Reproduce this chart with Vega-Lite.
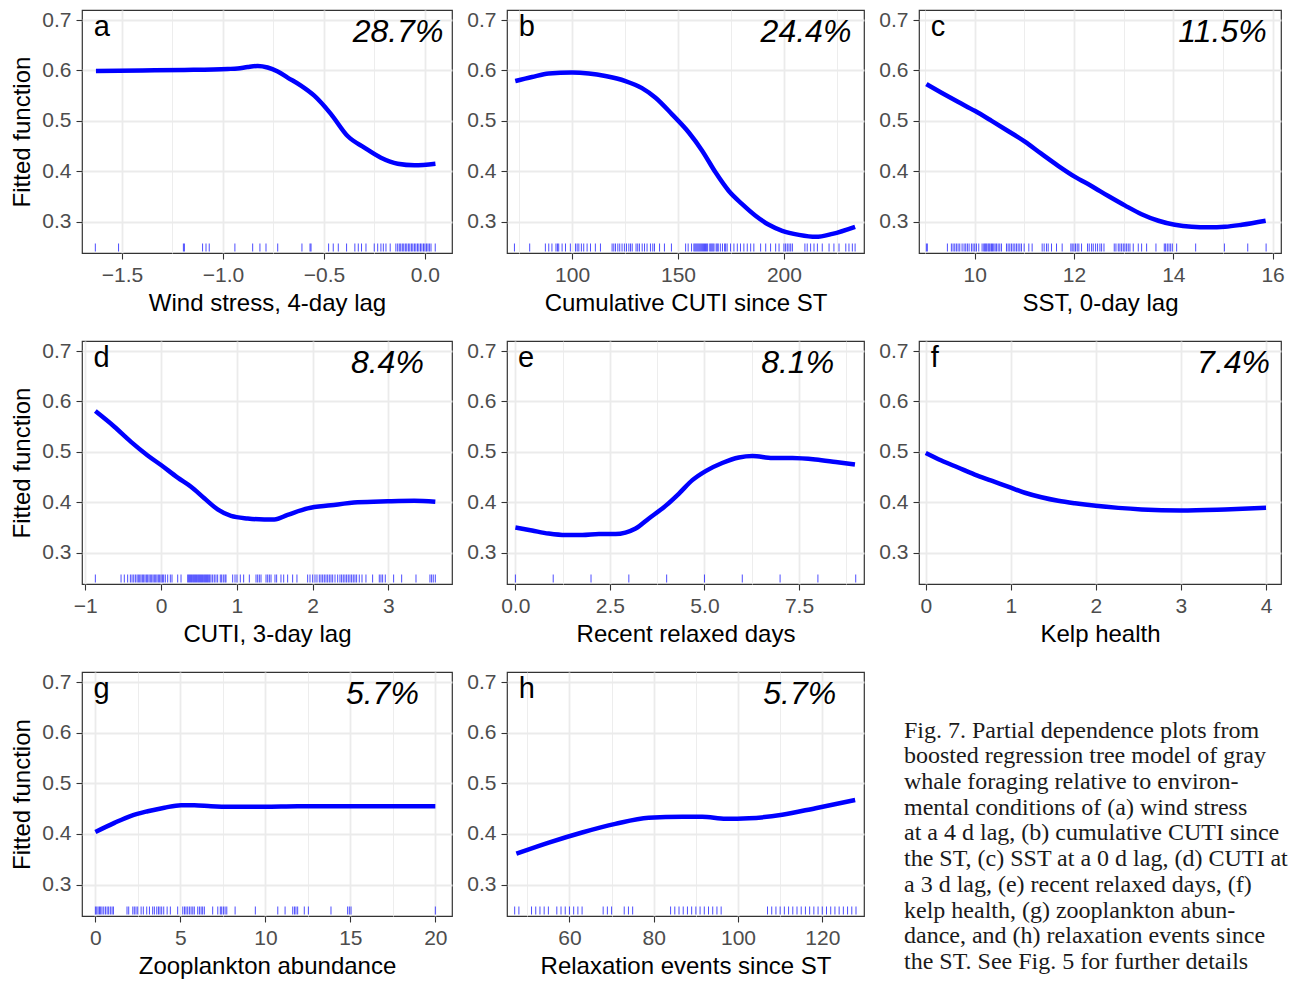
{
  "$schema": "https://vega.github.io/schema/vega-lite/v6.json",
  "background": "white",
  "padding": {"left": 10, "top": 8, "right": 4, "bottom": 4},
  "bounds": "flush",
  "align": "each",
  "columns": 3,
  "spacing": {"row": 88, "column": 55},
  "datasets": {
    "labels": [
      {"panel": "a", "letter": "a", "pct": "28.7%"},
      {"panel": "b", "letter": "b", "pct": "24.4%"},
      {"panel": "c", "letter": "c", "pct": "11.5%"},
      {"panel": "d", "letter": "d", "pct": "8.4%"},
      {"panel": "e", "letter": "e", "pct": "8.1%"},
      {"panel": "f", "letter": "f", "pct": "7.4%"},
      {"panel": "g", "letter": "g", "pct": "5.7%"},
      {"panel": "h", "letter": "h", "pct": "5.7%"}
    ],
    "caption": [
      {"line": 1, "text": "Fig. 7. Partial dependence plots from"},
      {"line": 2, "text": "boosted regression tree model of gray"},
      {"line": 3, "text": "whale foraging relative to environ-"},
      {"line": 4, "text": "mental conditions of (a) wind stress"},
      {"line": 5, "text": "at a 4 d lag, (b) cumulative CUTI since"},
      {"line": 6, "text": "the ST, (c) SST at a 0 d lag, (d) CUTI at"},
      {"line": 7, "text": "a 3 d lag, (e) recent relaxed days, (f)"},
      {"line": 8, "text": "kelp health, (g) zooplankton abun-"},
      {"line": 9, "text": "dance, and (h) relaxation events since"},
      {"line": 10, "text": "the ST. See Fig. 5 for further details"}
    ],
    "curve_a": [
      {"x": -1.629, "y": 0.599}, {"x": -1.40, "y": 0.600}, {"x": -1.191, "y": 0.601}, {"x": -0.977, "y": 0.603},
      {"x": -0.927, "y": 0.604}, {"x": -0.878, "y": 0.607}, {"x": -0.828, "y": 0.609}, {"x": -0.779, "y": 0.606},
      {"x": -0.729, "y": 0.598}, {"x": -0.68, "y": 0.586}, {"x": -0.614, "y": 0.570}, {"x": -0.548, "y": 0.55},
      {"x": -0.466, "y": 0.514}, {"x": -0.383, "y": 0.47}, {"x": -0.30, "y": 0.447}, {"x": -0.218, "y": 0.427},
      {"x": -0.135, "y": 0.415}, {"x": -0.052, "y": 0.412}, {"x": 0.052, "y": 0.415}
    ],
    "curve_b": [
      {"x": 73.2, "y": 0.579}, {"x": 81.1, "y": 0.587}, {"x": 89, "y": 0.594}, {"x": 100, "y": 0.596},
      {"x": 107.9, "y": 0.594}, {"x": 115.7, "y": 0.589}, {"x": 125.2, "y": 0.579}, {"x": 133, "y": 0.565},
      {"x": 139.4, "y": 0.546}, {"x": 147.2, "y": 0.513}, {"x": 155.1, "y": 0.477}, {"x": 161.4, "y": 0.441},
      {"x": 167.7, "y": 0.398}, {"x": 174, "y": 0.361}, {"x": 180.3, "y": 0.335}, {"x": 186.6, "y": 0.312},
      {"x": 192.9, "y": 0.294}, {"x": 199.2, "y": 0.282}, {"x": 207.1, "y": 0.274}, {"x": 215, "y": 0.270},
      {"x": 222.9, "y": 0.276}, {"x": 233.6, "y": 0.290}
    ],
    "curve_c": [
      {"x": 9.025, "y": 0.573}, {"x": 9.33, "y": 0.556}, {"x": 9.66, "y": 0.538}, {"x": 10.0, "y": 0.520},
      {"x": 10.34, "y": 0.500}, {"x": 10.67, "y": 0.480}, {"x": 11.01, "y": 0.459}, {"x": 11.34, "y": 0.435},
      {"x": 11.68, "y": 0.411}, {"x": 12.02, "y": 0.389}, {"x": 12.35, "y": 0.371}, {"x": 12.69, "y": 0.351},
      {"x": 13.03, "y": 0.332}, {"x": 13.36, "y": 0.315}, {"x": 13.70, "y": 0.302}, {"x": 14.03, "y": 0.294},
      {"x": 14.37, "y": 0.290}, {"x": 14.71, "y": 0.289}, {"x": 15.04, "y": 0.290}, {"x": 15.38, "y": 0.294},
      {"x": 15.86, "y": 0.302}
    ],
    "curve_d": [
      {"x": -0.866, "y": 0.581}, {"x": -0.615, "y": 0.550}, {"x": -0.396, "y": 0.520}, {"x": -0.176, "y": 0.493},
      {"x": 0, "y": 0.474}, {"x": 0.22, "y": 0.449}, {"x": 0.396, "y": 0.431}, {"x": 0.571, "y": 0.408},
      {"x": 0.747, "y": 0.386}, {"x": 0.923, "y": 0.373}, {"x": 1.143, "y": 0.368}, {"x": 1.363, "y": 0.366},
      {"x": 1.495, "y": 0.366}, {"x": 1.67, "y": 0.375}, {"x": 1.934, "y": 0.388}, {"x": 2.242, "y": 0.394},
      {"x": 2.593, "y": 0.400}, {"x": 2.989, "y": 0.402}, {"x": 3.34, "y": 0.403}, {"x": 3.618, "y": 0.401}
    ],
    "curve_e": [
      {"x": 0, "y": 0.350}, {"x": 0.44, "y": 0.344}, {"x": 0.88, "y": 0.338}, {"x": 1.32, "y": 0.335},
      {"x": 1.77, "y": 0.335}, {"x": 2.21, "y": 0.337}, {"x": 2.65, "y": 0.337}, {"x": 2.91, "y": 0.340},
      {"x": 3.18, "y": 0.348}, {"x": 3.53, "y": 0.368}, {"x": 3.97, "y": 0.393}, {"x": 4.32, "y": 0.417},
      {"x": 4.68, "y": 0.444}, {"x": 5.03, "y": 0.462}, {"x": 5.47, "y": 0.478}, {"x": 5.91, "y": 0.489},
      {"x": 6.27, "y": 0.492}, {"x": 6.80, "y": 0.488}, {"x": 7.33, "y": 0.488}, {"x": 7.94, "y": 0.485},
      {"x": 8.47, "y": 0.480}, {"x": 8.98, "y": 0.475}
    ],
    "curve_f": [
      {"x": 0, "y": 0.498}, {"x": 0.184, "y": 0.483}, {"x": 0.38, "y": 0.469}, {"x": 0.576, "y": 0.455},
      {"x": 0.773, "y": 0.443}, {"x": 1.0, "y": 0.429}, {"x": 1.165, "y": 0.419}, {"x": 1.36, "y": 0.410},
      {"x": 1.557, "y": 0.403}, {"x": 1.753, "y": 0.398}, {"x": 2.0, "y": 0.393}, {"x": 2.263, "y": 0.389},
      {"x": 2.537, "y": 0.386}, {"x": 3.0, "y": 0.384}, {"x": 3.518, "y": 0.386}, {"x": 4.0, "y": 0.389}
    ],
    "curve_g": [
      {"x": 0, "y": 0.404}, {"x": 1.12, "y": 0.422}, {"x": 2.1, "y": 0.436}, {"x": 3.08, "y": 0.445},
      {"x": 4.06, "y": 0.452}, {"x": 5.04, "y": 0.457}, {"x": 5.82, "y": 0.457}, {"x": 6.8, "y": 0.455},
      {"x": 7.98, "y": 0.454}, {"x": 9.94, "y": 0.454}, {"x": 11.9, "y": 0.455}, {"x": 13.86, "y": 0.455},
      {"x": 20, "y": 0.455}
    ],
    "curve_h": [
      {"x": 47.4, "y": 0.361}, {"x": 55.1, "y": 0.383}, {"x": 63.0, "y": 0.403}, {"x": 70.9, "y": 0.420},
      {"x": 78.8, "y": 0.432}, {"x": 86.8, "y": 0.434}, {"x": 91.5, "y": 0.434}, {"x": 97.1, "y": 0.430},
      {"x": 102.6, "y": 0.431}, {"x": 110.5, "y": 0.438}, {"x": 118.4, "y": 0.451}, {"x": 127.8, "y": 0.467}
    ],
    "rug_a": [
      {"x": -1.632}, {"x": -1.517}, {"x": -1.196}, {"x": -1.191}, {"x": -1.101}, {"x": -1.084}, {"x": -1.068},
      {"x": -0.941}, {"x": -0.853}, {"x": -0.817}, {"x": -0.787}, {"x": -0.729}, {"x": -0.609}, {"x": -0.569},
      {"x": -0.564}, {"x": -0.477}, {"x": -0.454}, {"x": -0.429}, {"x": -0.388}, {"x": -0.347}, {"x": -0.330},
      {"x": -0.314}, {"x": -0.292}, {"x": -0.251}, {"x": -0.234}, {"x": -0.218}, {"x": -0.206}, {"x": -0.193},
      {"x": -0.172}, {"x": -0.144}, {"x": -0.135}, {"x": -0.127}, {"x": -0.12}, {"x": -0.112}, {"x": -0.105},
      {"x": -0.097}, {"x": -0.09}, {"x": -0.082}, {"x": -0.075}, {"x": -0.067}, {"x": -0.06}, {"x": -0.052},
      {"x": -0.045}, {"x": -0.037}, {"x": -0.03}, {"x": -0.022}, {"x": -0.015}, {"x": -0.007}, {"x": 0},
      {"x": 0.008}, {"x": 0.015}, {"x": 0.022}, {"x": 0.03}, {"x": 0.051}
    ],
    "rug_b": [
      {"x": 72.8}, {"x": 80}, {"x": 87.4}, {"x": 89}, {"x": 90.5}, {"x": 92.4}, {"x": 93.1}, {"x": 93.7},
      {"x": 95.3}, {"x": 96.9}, {"x": 99.2}, {"x": 101.6}, {"x": 102.4}, {"x": 103.2}, {"x": 104.4},
      {"x": 105.5}, {"x": 107.1}, {"x": 108.7}, {"x": 111}, {"x": 113.4}, {"x": 118.9}, {"x": 119.7},
      {"x": 120.5}, {"x": 121.6}, {"x": 122.5}, {"x": 123.6}, {"x": 124.7}, {"x": 125.7}, {"x": 126.8},
      {"x": 127.6}, {"x": 128.4}, {"x": 130.2}, {"x": 131}, {"x": 131.8}, {"x": 133.1}, {"x": 134.2},
      {"x": 135.4}, {"x": 137}, {"x": 138.1}, {"x": 138.9}, {"x": 141.3}, {"x": 143.6}, {"x": 146.9},
      {"x": 153.6}, {"x": 154.8}, {"x": 156.4}, {"x": 157.5}, {"x": 158}, {"x": 158.5}, {"x": 159},
      {"x": 159.5}, {"x": 160}, {"x": 160.5}, {"x": 161}, {"x": 161.5}, {"x": 162}, {"x": 162.5}, {"x": 163},
      {"x": 163.5}, {"x": 164}, {"x": 165}, {"x": 165.5}, {"x": 166}, {"x": 166.5}, {"x": 167}, {"x": 168},
      {"x": 168.5}, {"x": 169}, {"x": 170}, {"x": 171}, {"x": 172}, {"x": 172.5}, {"x": 173.2}, {"x": 174.8},
      {"x": 176.4}, {"x": 178}, {"x": 179.5}, {"x": 181.1}, {"x": 182.7}, {"x": 184.3}, {"x": 185.8},
      {"x": 189}, {"x": 191.4}, {"x": 193.7}, {"x": 196.1}, {"x": 197.7}, {"x": 200}, {"x": 200.8},
      {"x": 201.6}, {"x": 202.4}, {"x": 203.2}, {"x": 204}, {"x": 209.9}, {"x": 211}, {"x": 212.6},
      {"x": 214.2}, {"x": 215.8}, {"x": 218.1}, {"x": 221.3}, {"x": 223.6}, {"x": 226}, {"x": 229.2},
      {"x": 230.7}, {"x": 232.3}, {"x": 233.6}
    ],
    "rug_c": [
      {"x": 9.025}, {"x": 9.045}, {"x": 9.449}, {"x": 9.529}, {"x": 9.563}, {"x": 9.597}, {"x": 9.630},
      {"x": 9.664}, {"x": 9.698}, {"x": 9.745}, {"x": 9.785}, {"x": 9.818}, {"x": 9.852}, {"x": 9.886},
      {"x": 9.933}, {"x": 9.966}, {"x": 10.0}, {"x": 10.034}, {"x": 10.081}, {"x": 10.148}, {"x": 10.182},
      {"x": 10.202}, {"x": 10.222}, {"x": 10.242}, {"x": 10.269}, {"x": 10.289}, {"x": 10.309}, {"x": 10.336},
      {"x": 10.356}, {"x": 10.383}, {"x": 10.41}, {"x": 10.437}, {"x": 10.471}, {"x": 10.504}, {"x": 10.538},
      {"x": 10.639}, {"x": 10.672}, {"x": 10.706}, {"x": 10.739}, {"x": 10.773}, {"x": 10.807}, {"x": 10.84},
      {"x": 10.874}, {"x": 10.908}, {"x": 10.941}, {"x": 10.995}, {"x": 11.089}, {"x": 11.156}, {"x": 11.358},
      {"x": 11.398}, {"x": 11.445}, {"x": 11.479}, {"x": 11.546}, {"x": 11.647}, {"x": 11.761}, {"x": 11.936},
      {"x": 11.963}, {"x": 11.997}, {"x": 12.03}, {"x": 12.064}, {"x": 12.097}, {"x": 12.151}, {"x": 12.272},
      {"x": 12.306}, {"x": 12.353}, {"x": 12.387}, {"x": 12.434}, {"x": 12.474}, {"x": 12.521}, {"x": 12.555},
      {"x": 12.603}, {"x": 12.81}, {"x": 12.844}, {"x": 12.891}, {"x": 12.924}, {"x": 12.958}, {"x": 12.992},
      {"x": 13.025}, {"x": 13.059}, {"x": 13.092}, {"x": 13.126}, {"x": 13.193}, {"x": 13.294}, {"x": 13.361},
      {"x": 13.462}, {"x": 13.65}, {"x": 13.818}, {"x": 13.845}, {"x": 13.879}, {"x": 13.913}, {"x": 13.946},
      {"x": 13.98}, {"x": 14.067}, {"x": 14.45}, {"x": 15.029}, {"x": 15.499}, {"x": 15.869}
    ],
    "rug_d": [
      {"x": -0.866}, {"x": -0.527}, {"x": -0.484}, {"x": -0.440}, {"x": -0.404}, {"x": -0.382}, {"x": -0.360},
      {"x": -0.338}, {"x": -0.316}, {"x": -0.299}, {"x": -0.281}, {"x": -0.264}, {"x": -0.246}, {"x": -0.229},
      {"x": -0.211}, {"x": -0.193}, {"x": -0.176}, {"x": -0.158}, {"x": -0.141}, {"x": -0.123}, {"x": -0.105},
      {"x": -0.088}, {"x": -0.070}, {"x": -0.053}, {"x": -0.035}, {"x": -0.018}, {"x": 0}, {"x": 0.018},
      {"x": 0.035}, {"x": 0.057}, {"x": 0.088}, {"x": 0.123}, {"x": 0.145}, {"x": 0.22}, {"x": 0.264},
      {"x": 0.352}, {"x": 0.365}, {"x": 0.378}, {"x": 0.391}, {"x": 0.404}, {"x": 0.418}, {"x": 0.431},
      {"x": 0.444}, {"x": 0.457}, {"x": 0.470}, {"x": 0.484}, {"x": 0.497}, {"x": 0.510}, {"x": 0.523},
      {"x": 0.536}, {"x": 0.549}, {"x": 0.563}, {"x": 0.576}, {"x": 0.589}, {"x": 0.602}, {"x": 0.615},
      {"x": 0.629}, {"x": 0.642}, {"x": 0.659}, {"x": 0.681}, {"x": 0.703}, {"x": 0.725}, {"x": 0.747},
      {"x": 0.782}, {"x": 0.8}, {"x": 0.822}, {"x": 0.844}, {"x": 0.857}, {"x": 0.945}, {"x": 0.976},
      {"x": 1.002}, {"x": 1.046}, {"x": 1.09}, {"x": 1.165}, {"x": 1.253}, {"x": 1.275}, {"x": 1.297},
      {"x": 1.319}, {"x": 1.385}, {"x": 1.407}, {"x": 1.429}, {"x": 1.451}, {"x": 1.503}, {"x": 1.525},
      {"x": 1.582}, {"x": 1.618}, {"x": 1.67}, {"x": 1.736}, {"x": 1.793}, {"x": 1.934}, {"x": 1.965},
      {"x": 2.0}, {"x": 2.031}, {"x": 2.057}, {"x": 2.088}, {"x": 2.11}, {"x": 2.132}, {"x": 2.154},
      {"x": 2.176}, {"x": 2.198}, {"x": 2.22}, {"x": 2.242}, {"x": 2.264}, {"x": 2.295}, {"x": 2.33},
      {"x": 2.36}, {"x": 2.382}, {"x": 2.404}, {"x": 2.426}, {"x": 2.448}, {"x": 2.47}, {"x": 2.492},
      {"x": 2.514}, {"x": 2.536}, {"x": 2.558}, {"x": 2.58}, {"x": 2.615}, {"x": 2.651}, {"x": 2.703},
      {"x": 2.791}, {"x": 2.879}, {"x": 2.901}, {"x": 2.923}, {"x": 2.958}, {"x": 3.068}, {"x": 3.174},
      {"x": 3.363}, {"x": 3.547}, {"x": 3.569}, {"x": 3.591}, {"x": 3.618}
    ],
    "rug_e": [
      {"x": 0}, {"x": 1}, {"x": 2}, {"x": 3}, {"x": 4}, {"x": 5}, {"x": 6}, {"x": 7}, {"x": 8}, {"x": 9}
    ],
    "rug_g": [
      {"x": 0}, {"x": 0.08}, {"x": 0.16}, {"x": 0.24}, {"x": 0.31}, {"x": 0.39}, {"x": 0.49}, {"x": 0.59},
      {"x": 0.69}, {"x": 0.78}, {"x": 0.88}, {"x": 0.98}, {"x": 1.06}, {"x": 1.86}, {"x": 1.96}, {"x": 2.2},
      {"x": 2.29}, {"x": 2.39}, {"x": 2.49}, {"x": 2.69}, {"x": 2.82}, {"x": 3.02}, {"x": 3.18}, {"x": 3.37},
      {"x": 3.47}, {"x": 3.61}, {"x": 3.71}, {"x": 3.8}, {"x": 3.9}, {"x": 4.02}, {"x": 4.22}, {"x": 4.41},
      {"x": 4.84}, {"x": 5.14}, {"x": 5.24}, {"x": 5.33}, {"x": 5.43}, {"x": 5.53}, {"x": 5.63}, {"x": 5.73},
      {"x": 5.82}, {"x": 6.02}, {"x": 6.12}, {"x": 6.22}, {"x": 6.31}, {"x": 6.41}, {"x": 6.9}, {"x": 7.2},
      {"x": 7.35}, {"x": 7.43}, {"x": 7.53}, {"x": 7.63}, {"x": 7.73}, {"x": 8.22}, {"x": 9.41}, {"x": 10.73},
      {"x": 11.16}, {"x": 11.61}, {"x": 11.71}, {"x": 11.8}, {"x": 11.9}, {"x": 12.29}, {"x": 12.53},
      {"x": 13.86}, {"x": 14.84}, {"x": 14.94}, {"x": 15.04}, {"x": 20}
    ],
    "rug_h": [
      {"x": 47}, {"x": 48}, {"x": 51}, {"x": 52}, {"x": 53}, {"x": 54}, {"x": 55}, {"x": 57}, {"x": 58},
      {"x": 59}, {"x": 60}, {"x": 61}, {"x": 62}, {"x": 63}, {"x": 68}, {"x": 69}, {"x": 70}, {"x": 73},
      {"x": 74}, {"x": 75}, {"x": 84}, {"x": 85}, {"x": 86}, {"x": 87}, {"x": 88}, {"x": 89}, {"x": 90},
      {"x": 91}, {"x": 92}, {"x": 93}, {"x": 94}, {"x": 95}, {"x": 96}, {"x": 107}, {"x": 108}, {"x": 109},
      {"x": 110}, {"x": 111}, {"x": 112}, {"x": 113}, {"x": 114}, {"x": 115}, {"x": 116}, {"x": 117},
      {"x": 118}, {"x": 119}, {"x": 120}, {"x": 121}, {"x": 122}, {"x": 123}, {"x": 124}, {"x": 125},
      {"x": 126}, {"x": 127}, {"x": 128}
    ]
  },
  "concat": [
    {
      "width": 370, "height": 243,
      "layer": [
        {
          "data": {"name": "curve_a"},
          "mark": {"type": "line", "color": "#0000FF", "strokeWidth": 4.5, "interpolate": "monotone"},
          "encoding": {
            "x": {"field": "x", "type": "quantitative", "scale": {"domain": [-1.698, 0.134], "zero": false, "nice": false},
              "axis": {"title": "Wind stress, 4-day lag", "values": [-1.5, -1.25, -1, -0.75, -0.5, -0.25, 0], "format": ".1f",
                "labelExpr": "datum.value % 0.5 == 0 ? datum.label : ''",
                "gridWidth": {"condition": {"test": "datum.value % 0.5 == 0", "value": 1.8}, "value": 0.9},
                "tickOpacity": {"condition": {"test": "datum.value % 0.5 == 0", "value": 1}, "value": 0}}},
            "y": {"field": "y", "type": "quantitative", "scale": {"domain": [0.238, 0.72], "zero": false, "nice": false},
              "axis": {"title": "Fitted function", "values": [0.3, 0.4, 0.5, 0.6, 0.7], "format": ".1f"}}
          }
        },
        {
          "data": {"name": "rug_a"},
          "mark": {"type": "tick", "orient": "vertical", "size": 8, "thickness": 1, "color": "#0000FF"},
          "encoding": {"x": {"field": "x", "type": "quantitative"}, "y": {"datum": 0.249, "type": "quantitative"}}
        },
        {
          "data": {"name": "labels"}, "transform": [{"filter": "datum.panel == 'a'"}],
          "mark": {"type": "text", "align": "left", "baseline": "alphabetic", "fontSize": 29, "color": "#000000"},
          "encoding": {"x": {"datum": -1.64, "type": "quantitative"}, "y": {"datum": 0.668, "type": "quantitative"}, "text": {"field": "letter"}}
        },
        {
          "data": {"name": "labels"}, "transform": [{"filter": "datum.panel == 'a'"}],
          "mark": {"type": "text", "align": "left", "baseline": "alphabetic", "fontSize": 32, "fontStyle": "italic", "color": "#000000"},
          "encoding": {"x": {"datum": -0.358, "type": "quantitative"}, "y": {"datum": 0.656, "type": "quantitative"}, "text": {"field": "pct"}}
        }
      ]
    },
    {
      "width": 357, "height": 243,
      "layer": [
        {
          "data": {"name": "curve_b"},
          "mark": {"type": "line", "color": "#0000FF", "strokeWidth": 4.5, "interpolate": "monotone"},
          "encoding": {
            "x": {"field": "x", "type": "quantitative", "scale": {"domain": [69.29, 237.8], "zero": false, "nice": false},
              "axis": {"title": "Cumulative CUTI since ST", "values": [75, 100, 125, 150, 175, 200, 225], "format": "d",
                "labelExpr": "datum.value % 50 == 0 ? datum.label : ''",
                "gridWidth": {"condition": {"test": "datum.value % 50 == 0", "value": 1.8}, "value": 0.9},
                "tickOpacity": {"condition": {"test": "datum.value % 50 == 0", "value": 1}, "value": 0}}},
            "y": {"field": "y", "type": "quantitative", "scale": {"domain": [0.238, 0.72], "zero": false, "nice": false},
              "axis": {"title": null, "values": [0.3, 0.4, 0.5, 0.6, 0.7], "format": ".1f"}}
          }
        },
        {
          "data": {"name": "rug_b"},
          "mark": {"type": "tick", "orient": "vertical", "size": 8, "thickness": 1, "color": "#0000FF"},
          "encoding": {"x": {"field": "x", "type": "quantitative"}, "y": {"datum": 0.249, "type": "quantitative"}}
        },
        {
          "data": {"name": "labels"}, "transform": [{"filter": "datum.panel == 'b'"}],
          "mark": {"type": "text", "align": "left", "baseline": "alphabetic", "fontSize": 29, "color": "#000000"},
          "encoding": {"x": {"datum": 74.8, "type": "quantitative"}, "y": {"datum": 0.668, "type": "quantitative"}, "text": {"field": "letter"}}
        },
        {
          "data": {"name": "labels"}, "transform": [{"filter": "datum.panel == 'b'"}],
          "mark": {"type": "text", "align": "left", "baseline": "alphabetic", "fontSize": 32, "fontStyle": "italic", "color": "#000000"},
          "encoding": {"x": {"datum": 189.0, "type": "quantitative"}, "y": {"datum": 0.656, "type": "quantitative"}, "text": {"field": "pct"}}
        }
      ]
    },
    {
      "width": 362, "height": 243,
      "layer": [
        {
          "data": {"name": "curve_c"},
          "mark": {"type": "line", "color": "#0000FF", "strokeWidth": 4.5, "interpolate": "monotone"},
          "encoding": {
            "x": {"field": "x", "type": "quantitative", "scale": {"domain": [8.877, 16.169], "zero": false, "nice": false},
              "axis": {"title": "SST, 0-day lag", "values": [9, 10, 11, 12, 13, 14, 15, 16], "format": "d",
                "labelExpr": "datum.value % 2 == 0 ? datum.label : ''",
                "gridWidth": {"condition": {"test": "datum.value % 2 == 0", "value": 1.8}, "value": 0.9},
                "tickOpacity": {"condition": {"test": "datum.value % 2 == 0", "value": 1}, "value": 0}}},
            "y": {"field": "y", "type": "quantitative", "scale": {"domain": [0.238, 0.72], "zero": false, "nice": false},
              "axis": {"title": null, "values": [0.3, 0.4, 0.5, 0.6, 0.7], "format": ".1f"}}
          }
        },
        {
          "data": {"name": "rug_c"},
          "mark": {"type": "tick", "orient": "vertical", "size": 8, "thickness": 1, "color": "#0000FF"},
          "encoding": {"x": {"field": "x", "type": "quantitative"}, "y": {"datum": 0.249, "type": "quantitative"}}
        },
        {
          "data": {"name": "labels"}, "transform": [{"filter": "datum.panel == 'c'"}],
          "mark": {"type": "text", "align": "left", "baseline": "alphabetic", "fontSize": 29, "color": "#000000"},
          "encoding": {"x": {"datum": 9.113, "type": "quantitative"}, "y": {"datum": 0.668, "type": "quantitative"}, "text": {"field": "letter"}}
        },
        {
          "data": {"name": "labels"}, "transform": [{"filter": "datum.panel == 'c'"}],
          "mark": {"type": "text", "align": "left", "baseline": "alphabetic", "fontSize": 32, "fontStyle": "italic", "color": "#000000"},
          "encoding": {"x": {"datum": 14.10, "type": "quantitative"}, "y": {"datum": 0.656, "type": "quantitative"}, "text": {"field": "pct"}}
        }
      ]
    },
    {
      "width": 370, "height": 243,
      "layer": [
        {
          "data": {"name": "curve_d"},
          "mark": {"type": "line", "color": "#0000FF", "strokeWidth": 4.5, "interpolate": "monotone"},
          "encoding": {
            "x": {"field": "x", "type": "quantitative", "scale": {"domain": [-1.042, 3.838], "zero": false, "nice": false},
              "axis": {"title": "CUTI, 3-day lag", "values": [-1, -0.5, 0, 0.5, 1, 1.5, 2, 2.5, 3, 3.5], "format": "d",
                "labelExpr": "datum.value % 1 == 0 ? datum.label : ''",
                "gridWidth": {"condition": {"test": "datum.value % 1 == 0", "value": 1.8}, "value": 0.9},
                "tickOpacity": {"condition": {"test": "datum.value % 1 == 0", "value": 1}, "value": 0}}},
            "y": {"field": "y", "type": "quantitative", "scale": {"domain": [0.238, 0.72], "zero": false, "nice": false},
              "axis": {"title": "Fitted function", "values": [0.3, 0.4, 0.5, 0.6, 0.7], "format": ".1f"}}
          }
        },
        {
          "data": {"name": "rug_d"},
          "mark": {"type": "tick", "orient": "vertical", "size": 8, "thickness": 1, "color": "#0000FF"},
          "encoding": {"x": {"field": "x", "type": "quantitative"}, "y": {"datum": 0.249, "type": "quantitative"}}
        },
        {
          "data": {"name": "labels"}, "transform": [{"filter": "datum.panel == 'd'"}],
          "mark": {"type": "text", "align": "left", "baseline": "alphabetic", "fontSize": 29, "color": "#000000"},
          "encoding": {"x": {"datum": -0.891, "type": "quantitative"}, "y": {"datum": 0.668, "type": "quantitative"}, "text": {"field": "letter"}}
        },
        {
          "data": {"name": "labels"}, "transform": [{"filter": "datum.panel == 'd'"}],
          "mark": {"type": "text", "align": "left", "baseline": "alphabetic", "fontSize": 32, "fontStyle": "italic", "color": "#000000"},
          "encoding": {"x": {"datum": 2.505, "type": "quantitative"}, "y": {"datum": 0.656, "type": "quantitative"}, "text": {"field": "pct"}}
        }
      ]
    },
    {
      "width": 357, "height": 243,
      "layer": [
        {
          "data": {"name": "curve_e"},
          "mark": {"type": "line", "color": "#0000FF", "strokeWidth": 4.5, "interpolate": "monotone"},
          "encoding": {
            "x": {"field": "x", "type": "quantitative", "scale": {"domain": [-0.222, 9.219], "zero": false, "nice": false},
              "axis": {"title": "Recent relaxed days", "values": [0, 1.25, 2.5, 3.75, 5, 6.25, 7.5, 8.75], "format": ".1f",
                "labelExpr": "datum.value % 2.5 == 0 ? datum.label : ''",
                "gridWidth": {"condition": {"test": "datum.value % 2.5 == 0", "value": 1.8}, "value": 0.9},
                "tickOpacity": {"condition": {"test": "datum.value % 2.5 == 0", "value": 1}, "value": 0}}},
            "y": {"field": "y", "type": "quantitative", "scale": {"domain": [0.238, 0.72], "zero": false, "nice": false},
              "axis": {"title": null, "values": [0.3, 0.4, 0.5, 0.6, 0.7], "format": ".1f"}}
          }
        },
        {
          "data": {"name": "rug_e"},
          "mark": {"type": "tick", "orient": "vertical", "size": 8, "thickness": 1, "color": "#0000FF"},
          "encoding": {"x": {"field": "x", "type": "quantitative"}, "y": {"datum": 0.249, "type": "quantitative"}}
        },
        {
          "data": {"name": "labels"}, "transform": [{"filter": "datum.panel == 'e'"}],
          "mark": {"type": "text", "align": "left", "baseline": "alphabetic", "fontSize": 29, "color": "#000000"},
          "encoding": {"x": {"datum": 0.069, "type": "quantitative"}, "y": {"datum": 0.668, "type": "quantitative"}, "text": {"field": "letter"}}
        },
        {
          "data": {"name": "labels"}, "transform": [{"filter": "datum.panel == 'e'"}],
          "mark": {"type": "text", "align": "left", "baseline": "alphabetic", "fontSize": 32, "fontStyle": "italic", "color": "#000000"},
          "encoding": {"x": {"datum": 6.50, "type": "quantitative"}, "y": {"datum": 0.656, "type": "quantitative"}, "text": {"field": "pct"}}
        }
      ]
    },
    {
      "width": 362, "height": 243,
      "layer": [
        {
          "data": {"name": "curve_f"},
          "mark": {"type": "line", "color": "#0000FF", "strokeWidth": 4.5, "interpolate": "monotone"},
          "encoding": {
            "x": {"field": "x", "type": "quantitative", "scale": {"domain": [-0.079, 4.176], "zero": false, "nice": false},
              "axis": {"title": "Kelp health", "values": [0, 0.5, 1, 1.5, 2, 2.5, 3, 3.5, 4], "format": "d",
                "labelExpr": "datum.value % 1 == 0 ? datum.label : ''",
                "gridWidth": {"condition": {"test": "datum.value % 1 == 0", "value": 1.8}, "value": 0.9},
                "tickOpacity": {"condition": {"test": "datum.value % 1 == 0", "value": 1}, "value": 0}}},
            "y": {"field": "y", "type": "quantitative", "scale": {"domain": [0.238, 0.72], "zero": false, "nice": false},
              "axis": {"title": null, "values": [0.3, 0.4, 0.5, 0.6, 0.7], "format": ".1f"}}
          }
        },
        {
          "data": {"name": "labels"}, "transform": [{"filter": "datum.panel == 'f'"}],
          "mark": {"type": "text", "align": "left", "baseline": "alphabetic", "fontSize": 29, "color": "#000000"},
          "encoding": {"x": {"datum": 0.059, "type": "quantitative"}, "y": {"datum": 0.668, "type": "quantitative"}, "text": {"field": "letter"}}
        },
        {
          "data": {"name": "labels"}, "transform": [{"filter": "datum.panel == 'f'"}],
          "mark": {"type": "text", "align": "left", "baseline": "alphabetic", "fontSize": 32, "fontStyle": "italic", "color": "#000000"},
          "encoding": {"x": {"datum": 3.19, "type": "quantitative"}, "y": {"datum": 0.656, "type": "quantitative"}, "text": {"field": "pct"}}
        }
      ]
    },
    {
      "width": 370, "height": 244,
      "layer": [
        {
          "data": {"name": "curve_g"},
          "mark": {"type": "line", "color": "#0000FF", "strokeWidth": 4.5, "interpolate": "monotone"},
          "encoding": {
            "x": {"field": "x", "type": "quantitative", "scale": {"domain": [-0.788, 20.98], "zero": false, "nice": false},
              "axis": {"title": "Zooplankton abundance", "values": [0, 2.5, 5, 7.5, 10, 12.5, 15, 17.5, 20], "format": "d",
                "labelExpr": "datum.value % 5 == 0 ? datum.label : ''",
                "gridWidth": {"condition": {"test": "datum.value % 5 == 0", "value": 1.8}, "value": 0.9},
                "tickOpacity": {"condition": {"test": "datum.value % 5 == 0", "value": 1}, "value": 0}}},
            "y": {"field": "y", "type": "quantitative", "scale": {"domain": [0.238, 0.72], "zero": false, "nice": false},
              "axis": {"title": "Fitted function", "values": [0.3, 0.4, 0.5, 0.6, 0.7], "format": ".1f"}}
          }
        },
        {
          "data": {"name": "rug_g"},
          "mark": {"type": "tick", "orient": "vertical", "size": 8, "thickness": 1, "color": "#0000FF"},
          "encoding": {"x": {"field": "x", "type": "quantitative"}, "y": {"datum": 0.249, "type": "quantitative"}}
        },
        {
          "data": {"name": "labels"}, "transform": [{"filter": "datum.panel == 'g'"}],
          "mark": {"type": "text", "align": "left", "baseline": "alphabetic", "fontSize": 29, "color": "#000000"},
          "encoding": {"x": {"datum": -0.118, "type": "quantitative"}, "y": {"datum": 0.668, "type": "quantitative"}, "text": {"field": "letter"}}
        },
        {
          "data": {"name": "labels"}, "transform": [{"filter": "datum.panel == 'g'"}],
          "mark": {"type": "text", "align": "left", "baseline": "alphabetic", "fontSize": 32, "fontStyle": "italic", "color": "#000000"},
          "encoding": {"x": {"datum": 14.74, "type": "quantitative"}, "y": {"datum": 0.656, "type": "quantitative"}, "text": {"field": "pct"}}
        }
      ]
    },
    {
      "width": 357, "height": 244,
      "layer": [
        {
          "data": {"name": "curve_h"},
          "mark": {"type": "line", "color": "#0000FF", "strokeWidth": 4.5, "interpolate": "monotone"},
          "encoding": {
            "x": {"field": "x", "type": "quantitative", "scale": {"domain": [45.18, 129.9], "zero": false, "nice": false},
              "axis": {"title": "Relaxation events since ST", "values": [50, 60, 70, 80, 90, 100, 110, 120], "format": "d",
                "labelExpr": "datum.value % 20 == 0 ? datum.label : ''",
                "gridWidth": {"condition": {"test": "datum.value % 20 == 0", "value": 1.8}, "value": 0.9},
                "tickOpacity": {"condition": {"test": "datum.value % 20 == 0", "value": 1}, "value": 0}}},
            "y": {"field": "y", "type": "quantitative", "scale": {"domain": [0.238, 0.72], "zero": false, "nice": false},
              "axis": {"title": null, "values": [0.3, 0.4, 0.5, 0.6, 0.7], "format": ".1f"}}
          }
        },
        {
          "data": {"name": "rug_h"},
          "mark": {"type": "tick", "orient": "vertical", "size": 8, "thickness": 1, "color": "#0000FF"},
          "encoding": {"x": {"field": "x", "type": "quantitative"}, "y": {"datum": 0.249, "type": "quantitative"}}
        },
        {
          "data": {"name": "labels"}, "transform": [{"filter": "datum.panel == 'h'"}],
          "mark": {"type": "text", "align": "left", "baseline": "alphabetic", "fontSize": 29, "color": "#000000"},
          "encoding": {"x": {"datum": 47.96, "type": "quantitative"}, "y": {"datum": 0.668, "type": "quantitative"}, "text": {"field": "letter"}}
        },
        {
          "data": {"name": "labels"}, "transform": [{"filter": "datum.panel == 'h'"}],
          "mark": {"type": "text", "align": "left", "baseline": "alphabetic", "fontSize": 32, "fontStyle": "italic", "color": "#000000"},
          "encoding": {"x": {"datum": 106.0, "type": "quantitative"}, "y": {"datum": 0.656, "type": "quantitative"}, "text": {"field": "pct"}}
        }
      ]
    },
    {
      "width": 362, "height": 244,
      "view": {"stroke": null},
      "data": {"name": "caption"},
      "mark": {"type": "text", "align": "left", "baseline": "alphabetic", "font": "Liberation Serif", "fontSize": 24, "dx": -15, "color": "#1a1a1a"},
      "encoding": {
        "x": {"datum": 0, "type": "quantitative", "scale": {"domain": [0, 1]}, "axis": null},
        "y": {"field": "line", "type": "quantitative", "scale": {"domain": [-1.556, 7.938], "reverse": true, "zero": false, "nice": false}, "axis": null},
        "text": {"field": "text"}
      }
    }
  ],
  "config": {
    "font": "Liberation Sans",
    "view": {"stroke": "#333333", "strokeWidth": 1.2},
    "axis": {
      "domain": false,
      "grid": true,
      "gridColor": "#EBEBEB",
      "ticks": true,
      "tickColor": "#333333",
      "tickSize": 6,
      "tickWidth": 1.1,
      "labelColor": "#4D4D4D",
      "labelFont": "Liberation Sans",
      "labelFontSize": 21,
      "labelOverlap": false,
      "titleFont": "Liberation Sans",
      "titleFontSize": 24,
      "titleFontWeight": "normal",
      "titleColor": "#000000"
    },
    "axisX": {"labelPadding": 5, "titlePadding": 6},
    "axisY": {"labelPadding": 5, "titlePadding": 7, "gridWidth": 1.8}
  }
}
